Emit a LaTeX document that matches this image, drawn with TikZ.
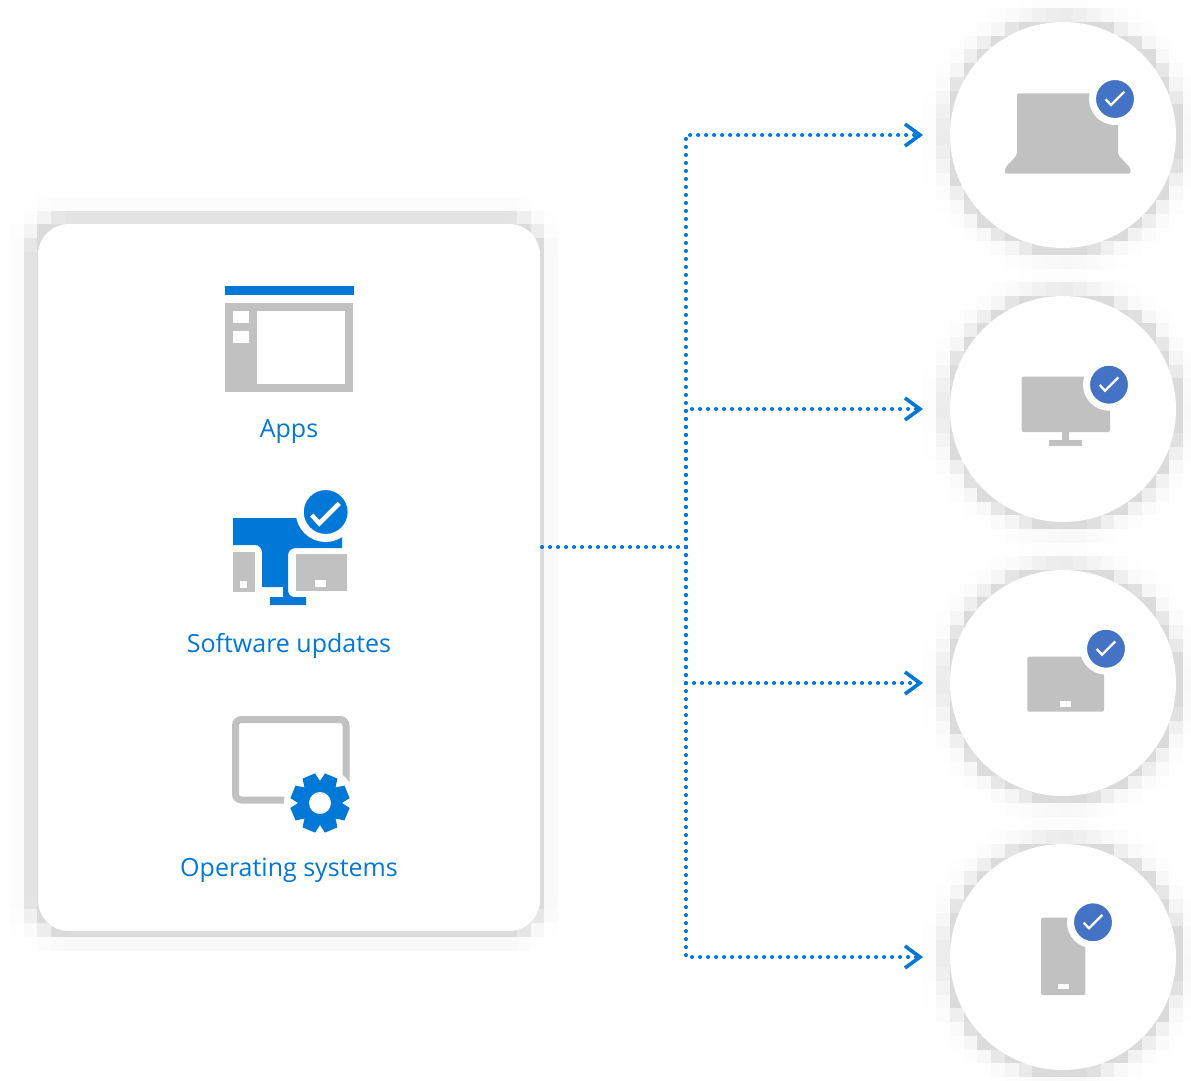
\documentclass[tikz,border=0pt]{standalone}
\usepackage{fontspec}
\setmainfont{Open Sans}
\usetikzlibrary{arrows.meta}
\definecolor{msblue}{HTML}{0078D7}
\definecolor{badgeblue}{HTML}{4472C4}
\definecolor{icongray}{HTML}{C1C1C1}
\tikzset{
  panel/.style={fill=white,rounded corners=31pt,minimum width=502pt,minimum height=707pt,inner sep=0pt,outer sep=0pt},
  device/.style={circle,fill=white,minimum size=226pt,inner sep=0pt,outer sep=0pt},
  badge/.style={circle,fill=badgeblue,draw=white,line width=7pt,minimum size=45pt,inner sep=0pt,outer sep=0pt},
  bigbadge/.style={circle,fill=msblue,draw=white,line width=8pt,minimum size=52pt,inner sep=0pt,outer sep=0pt},
  caption/.style={text=msblue,font=\fontsize{25}{30}\selectfont,inner sep=0pt},
  link/.style={msblue,line width=4pt,line cap=round,dash pattern=on 0.1pt off 7.9pt,shorten >=40pt,
    -{Straight Barb[length=15pt,width=22pt,line width=3.6pt,sep=-13pt]}},
  tick/.style={white,line width=2.3pt}
}
\newcommand{\softshadow}[9]{%
  \foreach \i in {1,...,#8} \foreach \j in {1,...,#9} {
    \pgfmathsetmacro{\sx}{#6+13.7*(\i-1)}
    \pgfmathsetmacro{\sy}{#7+13.7*(\j-1)}
    \pgfmathsetmacro{\dd}{veclen(max(abs(\sx+6.85-#1)-#3,0.01),max(abs(\sy+6.85-#2)-#4,0.01))-#5}
    \pgfmathsetmacro{\lvl}{min(14,22*exp(-max(\dd,0)/6.5))}
    \ifdim\lvl pt>0.3pt \ifdim\dd pt>-20pt
      \fill[black!\lvl] (\sx,\sy) rectangle ++(13.9,13.9);
    \fi\fi
  }}
\newcommand{\devbadge}[3]{%
  \node[badge] (#1) at (#2,#3) {};
  \draw[tick] ([shift={(-9.3,0.3)}]#1.center) -- ([shift={(-4,6)}]#1.center) -- ([shift={(9.3,-7.3)}]#1.center);}
\begin{document}
\begin{tikzpicture}[x=1pt,y=-1pt]
\useasboundingbox (0,0) rectangle (1191,1081);
\softshadow{286}{575.5}{220}{322.5}{31}{-3.7}{183.1}{44}{58}
\foreach \y in {135,409,683,957} {
  \softshadow{1063}{\y}{0}{0}{113}{922.6}{\y-140.4}{21}{21}
}

\node[panel] (panel) at (289,577.5) {};
\node[device] (dev1) at (1063,135) {};
\node[device] (dev2) at (1063,409) {};
\node[device] (dev3) at (1063,683) {};
\node[device] (dev4) at (1063,957) {};

\coordinate (hub) at (686,547);
\draw[link,shorten >=0pt,-] (panel.east |- hub) ++(2,0) -- (hub);
\foreach \n in {dev1,dev2,dev3,dev4}
  \draw[link] (hub) |- (\n);

\fill[msblue] (225,286) rectangle (354,295);
\fill[icongray] (225,303) rectangle (353,391.5);
\fill[white] (233,311) rectangle (249,323);
\fill[white] (233,331) rectangle (249,343);
\fill[white] (256.7,311) rectangle (345,384);
\node[caption] (apps) at (289,432) {Apps};

\fill[msblue] (233,518) -- (342,518) -- (342,548) -- (296,548)
  .. controls (291,548) and (288,551) .. (288,556) -- (288,590)
  .. controls (288,593) and (290,597) .. (294,597) -- (306,597) -- (306,605) -- (270,605) -- (270,597)
  -- (283,597) -- (283,587) -- (262,587) -- (262,553)
  .. controls (262,548) and (259,545) .. (255,545) -- (233,545) -- cycle;
\fill[icongray] (233,552) rectangle (255,592);
\fill[white] (240,581) rectangle (247,588);
\fill[icongray] (296,554) rectangle (346.7,590.7);
\fill[white] (315,580) rectangle (326,587);
\node[bigbadge] (updbadge) at (325.7,512) {};
\draw[white,line width=4.5pt] ([shift={(-14,3)}]updbadge.center) -- ([shift={(-6.4,11.3)}]updbadge.center) -- ([shift={(13.6,-8.7)}]updbadge.center);
\node[caption] (updates) at (289,646) {Software updates};

\draw[icongray,line width=7pt,rounded corners=6pt] (235.5,719.5) rectangle (346,800);
\begin{scope}[shift={(320,803)}]
\fill[white] (0,0) circle (36);
\fill[msblue] (0:22) \foreach \a in {22.5,67.5,...,337.5} { -- (\a-22.5:22) -- (\a-13:30) -- (\a+13:30)} -- cycle;
\fill[white] (0,0) circle (11);
\end{scope}
\node[caption] (os) at (289,870) {Operating systems};

\fill[icongray,rounded corners=2pt] (1017,93.3) -- (1118,93.3) -- (1118,155) -- (1130.5,168) -- (1130.5,173.7) -- (1005,173.7) -- (1005,168) -- (1017,155) -- cycle;
\devbadge{lapbadge}{1115}{99}

\fill[icongray,rounded corners=2pt] (1021.7,376.7) rectangle (1110,432);
\fill[icongray] (1062.3,430) rectangle (1069,441);
\fill[icongray] (1048.7,440) rectangle (1082.3,446);
\devbadge{monbadge}{1109}{384.7}

\fill[icongray,rounded corners=2pt] (1027.3,656.7) rectangle (1104,711.7);
\fill[white] (1060,701) rectangle (1071,706.7);
\devbadge{tabbadge}{1106}{648.7}

\fill[icongray,rounded corners=2pt] (1041,917.7) rectangle (1085.3,995);
\fill[white] (1057.7,984) rectangle (1069,989.3);
\devbadge{phobadge}{1093}{922.3}
\end{tikzpicture}
\end{document}
